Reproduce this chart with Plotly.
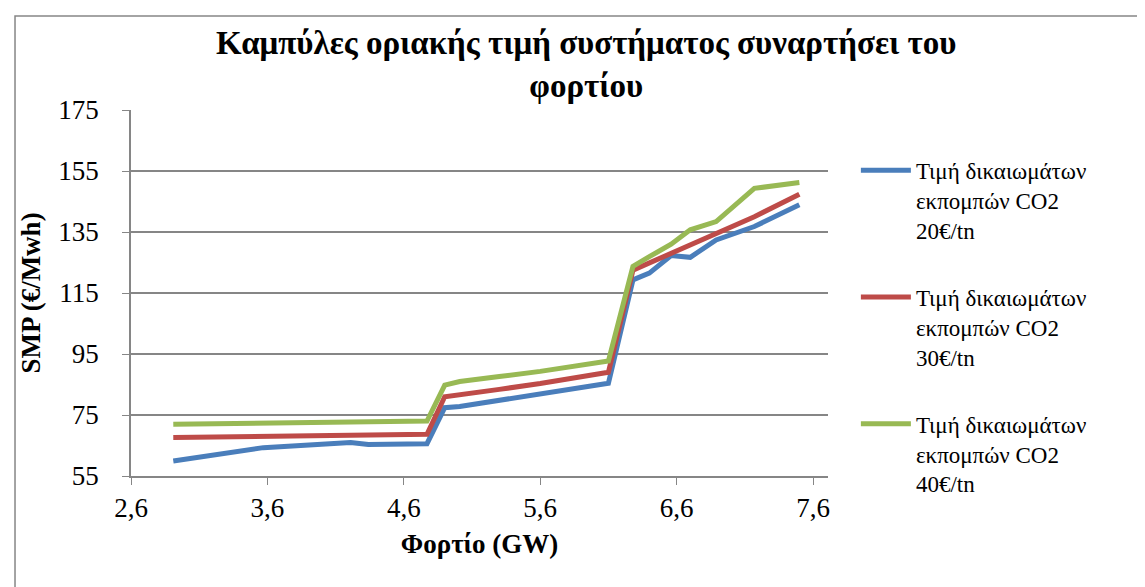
import plotly.graph_objects as go

# Φορτίο (GW)
fortio = [2.91, 3.57, 4.21, 4.34, 4.77, 4.90, 5.01, 5.30, 5.60, 6.10,
          6.28, 6.40, 6.56, 6.70, 6.89, 7.17, 7.50]

# SMP (€/Mwh) για κάθε τιμή δικαιωμάτων CO2
smp_20 = [59.9, 64.3, 66.0, 65.3, 65.6, 77.4, 77.8, 79.8, 81.8, 85.4,
          119.3, 121.5, 127.3, 126.7, 132.4, 136.8, 143.9]
smp_30 = [67.6, 68.1, 68.4, 68.5, 68.7, 81.0, 81.6, 83.4, 85.3, 89.0,
          122.5, 124.8, 127.9, 130.8, 134.6, 140.0, 147.4]
smp_40 = [72.0, 72.3, 72.6, 72.7, 73.0, 84.8, 86.0, 87.6, 89.3, 92.7,
          123.7, 126.9, 131.0, 135.7, 138.4, 149.3, 151.2]

onomata = ["Τιμή δικαιωμάτων<br>εκπομπών CO2<br>20€/tn",
           "Τιμή δικαιωμάτων<br>εκπομπών CO2<br>30€/tn",
           "Τιμή δικαιωμάτων<br>εκπομπών CO2<br>40€/tn"]
xromata = ["#4A7EBB", "#BE4B48", "#98B954"]

serif = "'Liberation Serif', serif"

fig = go.Figure()
for i, seira in enumerate([smp_20, smp_30, smp_40]):
    fig.add_trace(go.Scatter(
        x=fortio, y=seira, mode="lines", name=onomata[i],
        legendgroup=str(i),
        line=dict(color=xromata[i], width=5)
    ))

fig.update_layout(
    width=1145, height=587,
    margin=dict(l=123, r=325, t=102, b=119),
    paper_bgcolor="white", plot_bgcolor="white",
    separators=",.",
    font=dict(family=serif, size=27, color="black"),
    title=dict(
        text="<b>Καμπύλες οριακής τιμή συστήματος συναρτήσει του<br>φορτίου</b>",
        x=0.505, xanchor="center", y=0.922, yanchor="top",
        font=dict(family=serif, size=33, color="black")
    ),
    xaxis=dict(
        range=[2.6, 7.71], tick0=2.6, dtick=1, tickformat=".1f",
        showgrid=False, showline=True, linecolor="#868686", linewidth=1.5,
        ticks="outside", ticklen=7, tickcolor="#868686",
        title=dict(text="<b>Φορτίο (GW)</b>", font=dict(size=27), standoff=12),
        zeroline=False
    ),
    yaxis=dict(
        range=[55, 175], tick0=55, dtick=20,
        showgrid=True, gridcolor="#868686", gridwidth=1.5,
        showline=True, linecolor="#868686", linewidth=1.5,
        ticks="outside", ticklen=7, tickcolor="#868686",
        ticklabelstandoff=18,
        title=dict(text="<b>SMP (€/Mwh)</b>", font=dict(size=27), standoff=10),
        zeroline=False
    ),
    legend=dict(
        x=1.04, y=0.894, xanchor="left", yanchor="top", valign="top",
        font=dict(family=serif, size=23), tracegroupgap=34, itemwidth=50,
        bgcolor="rgba(0,0,0,0)"
    ),
    shapes=[dict(type="rect", xref="paper", yref="paper",
                 x0=-0.1664, x1=2, y0=-2, y1=1.2568,
                 line=dict(color="#868686", width=1.5))]
)

fig.write_html("out.html")
